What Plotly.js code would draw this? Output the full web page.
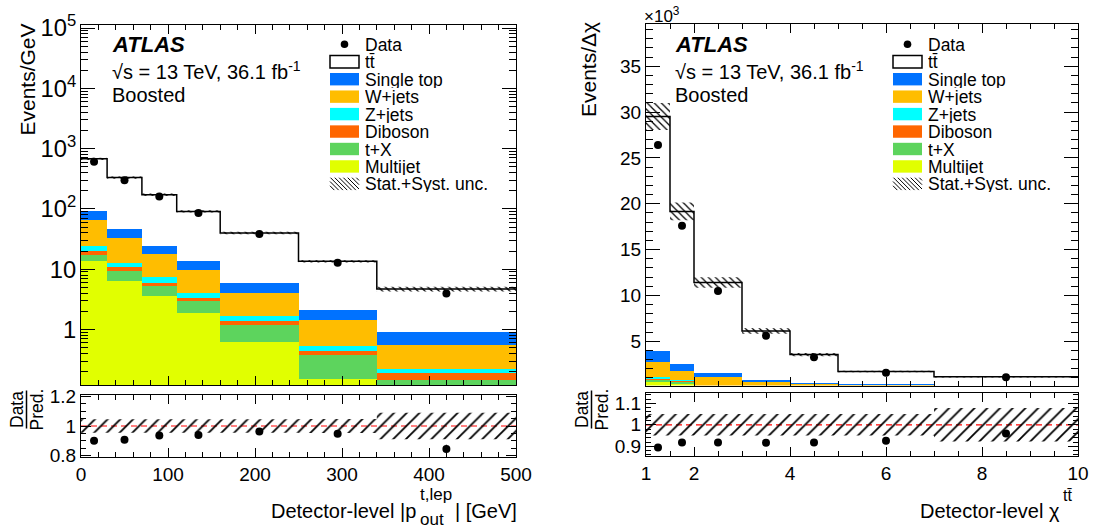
<!DOCTYPE html>
<html>
<head>
<meta charset="utf-8">
<script src="https://cdn.plot.ly/plotly-3.0.1.min.js"></script>
<style>
html,body{margin:0;padding:0;background:#ffffff;}
#chart{width:1094px;height:528px;}
</style>
</head>
<body>
<div id="chart"></div>
<script>
// ---------- Left panel: detector-level |p_out^{t,lep}|  (Events/GeV) ----------
const poutEdges      = [0, 30, 70, 110, 160, 250, 340, 500];
const poutData       = [608, 300, 161, 85.5, 38.5, 12.8, 3.97];
const poutDataRelErr = [0.005, 0.006, 0.008, 0.010, 0.012, 0.018, 0.035];
const poutTtbar      = [585, 284.5, 147.4, 77.5, 34.15, 11.36, 3.8];
const poutSingleTop  = [24.7, 13.1, 6.5, 3.65, 1.8, 0.73, 0.346];
const poutWjets      = [42.4, 20.5, 10.65, 5.8, 2.37, 0.87, 0.339];
const poutZjets      = [4.1, 2.2, 1.52, 0.70, 0.32, 0.105, 0.029];
const poutDiboson    = [2.3, 1.2, 0.58, 0.41, 0.18, 0.067, 0.046];
const poutTX         = [3.6, 3.0, 1.69, 1.08, 0.55, 0.217, 0.093];
const poutMultijet   = [13.9, 6.5, 3.66, 1.86, 0.63, 0.154, 0.05];
const poutRelUnc     = [0.046, 0.045, 0.045, 0.046, 0.046, 0.047, 0.09];

// ---------- Right panel: detector-level chi^{tt}  (Events/Delta chi, x10^3) ----------
const chiEdges      = [1, 1.5, 2, 3, 4, 5, 7, 10];
const chiData       = [26.4, 17.59, 10.47, 5.61, 3.26, 1.574, 1.075];
const chiDataRelErr = [0.004, 0.005, 0.005, 0.007, 0.009, 0.012, 0.014];
const chiTtbar      = [25.55, 16.59, 9.92, 5.36, 3.085, 1.395, 0.965];
const chiSingleTop  = [1.27, 0.83, 0.40, 0.21, 0.10, 0.08, 0.04];
const chiWjets      = [1.55, 0.99, 0.93, 0.45, 0.32, 0.20, 0.10];
const chiZjets      = [0.25, 0.14, 0.03, 0.02, 0.01, 0.007, 0.005];
const chiDiboson    = [0.08, 0.06, 0.01, 0.01, 0.005, 0.003, 0.002];
const chiTX         = [0.25, 0.20, 0.06, 0.04, 0.02, 0.01, 0.005];
const chiMultijet   = [0.55, 0.35, 0.06, 0.03, 0.01, 0.005, 0.003];
const chiRelUnc     = [0.05, 0.05, 0.05, 0.05, 0.05, 0.05, 0.078];

// ---------- Labels ----------
const legendLabels = ['Data', 't\u0074\u0304', 'Single top', 'W+jets', 'Z+jets', 'Diboson', 't+X', 'Multijet', 'Stat.+Syst. unc.'];
const stackNames   = ['Multijet', 't+X', 'Diboson', 'Z+jets', 'W+jets', 'Single top', 'ttbar'];
const stackColors  = ['#e1ff00', '#5dd45d', '#ff6600', '#00ffff', '#ffbd00', '#0072ff', '#ffffff'];
const poutXTicks = [0, 100, 200, 300, 400, 500];
const chiXTicks  = [1, 2, 4, 6, 8, 10];

const FONT = 'Liberation Sans, Arial, Helvetica, sans-serif';
const W = 1094, H = 528;
const px = x => x / W, py = y => 1 - y / H;

function centers(e) { return e.slice(0, -1).map((v, i) => (v + e[i + 1]) / 2); }
function widths(e)  { return e.slice(0, -1).map((v, i) => e[i + 1] - v); }

function buildPanel(p) {
  const c = centers(p.edges), w = widths(p.edges);
  const traces = [];
  p.comps.forEach((arr, i) => traces.push({
    type: 'bar', name: stackNames[i], x: c, y: arr, width: w,
    xaxis: p.xa, yaxis: p.ya, marker: {color: stackColors[i], line: {width: 0}},
    showlegend: false, hoverinfo: 'skip'
  }));
  const total = c.map((_, i) => p.comps.reduce((s, a) => s + a[i], 0));
  const bx = [], by = [], rx = [], ry = [];
  total.forEach((t, i) => {
    const a = p.edges[i], b = p.edges[i + 1], u = p.relUnc[i];
    bx.push(a, b, b, a, a, null); by.push(t * (1 - u), t * (1 - u), t * (1 + u), t * (1 + u), t * (1 - u), null);
    rx.push(a, b, b, a, a, null); ry.push(1 - u, 1 - u, 1 + u, 1 + u, 1 - u, null);
  });
  traces.push({
    type: 'scatter', mode: 'lines', x: bx, y: by, xaxis: p.xa, yaxis: p.ya,
    line: {width: 0, color: 'rgba(0,0,0,0)'}, fill: 'toself', fillcolor: 'rgba(0,0,0,0)',
    fillpattern: {shape: '\\', fgcolor: '#000', bgcolor: 'rgba(0,0,0,0)', size: 5, solidity: 0.25},
    showlegend: false, hoverinfo: 'skip'
  });
  traces.push({
    type: 'scatter', mode: 'lines', x: p.edges, y: total.concat([total[total.length - 1]]),
    xaxis: p.xa, yaxis: p.ya, line: {shape: 'hv', color: '#000', width: 1.5},
    showlegend: false, hoverinfo: 'skip'
  });
  traces.push({
    type: 'scatter', mode: 'markers', x: c, y: p.data, xaxis: p.xa, yaxis: p.ya,
    marker: {color: '#000', size: 8},
    error_y: {type: 'data', array: p.data.map((d, i) => d * p.dataRelErr[i]), thickness: 1.2, width: 0, color: '#000'},
    showlegend: false, hoverinfo: 'skip'
  });
  // ratio
  traces.push({
    type: 'scatter', mode: 'lines', x: rx, y: ry, xaxis: p.rxa, yaxis: p.rya,
    line: {width: 0, color: 'rgba(0,0,0,0)'}, fill: 'toself', fillcolor: 'rgba(0,0,0,0)',
    fillpattern: {shape: '/', fgcolor: '#000', bgcolor: 'rgba(0,0,0,0)', size: 9, solidity: 0.2},
    showlegend: false, hoverinfo: 'skip'
  });
  const ratio = p.data.map((d, i) => d / total[i]);
  traces.push({
    type: 'scatter', mode: 'markers', x: c, y: ratio, xaxis: p.rxa, yaxis: p.rya,
    marker: {color: '#000', size: 8},
    error_y: {type: 'data', array: ratio.map((r, i) => r * p.dataRelErr[i]), thickness: 1.2, width: 0, color: '#000'},
    showlegend: false, hoverinfo: 'skip'
  });
  return traces;
}

const traces = [].concat(
  buildPanel({edges: poutEdges, data: poutData, dataRelErr: poutDataRelErr, relUnc: poutRelUnc,
    comps: [poutMultijet, poutTX, poutDiboson, poutZjets, poutWjets, poutSingleTop, poutTtbar],
    xa: 'x', ya: 'y', rxa: 'x2', rya: 'y2'}),
  buildPanel({edges: chiEdges, data: chiData, dataRelErr: chiDataRelErr, relUnc: chiRelUnc,
    comps: [chiMultijet, chiTX, chiDiboson, chiZjets, chiWjets, chiSingleTop, chiTtbar],
    xa: 'x3', ya: 'y3', rxa: 'x4', rya: 'y4'})
);

function ax(extra) {
  return Object.assign({
    showline: true, linecolor: '#000', linewidth: 1, mirror: 'allticks',
    ticks: 'inside', tickcolor: '#000', tickwidth: 1, showgrid: false, zeroline: false,
    tickfont: {family: FONT, size: 19, color: '#000'}
  }, extra);
}
const minor = (o) => Object.assign({ticks: 'inside', tickcolor: '#000', showgrid: false}, o);

const LX = [px(81), px(516)], RX = [px(646), px(1078)];
const layout = {
  width: W, height: H, margin: {l: 0, r: 0, t: 0, b: 0},
  paper_bgcolor: '#fff', plot_bgcolor: '#fff', barmode: 'stack', showlegend: false,
  font: {family: FONT, color: '#000'},
  xaxis:  ax({domain: LX, anchor: 'y', range: [0, 500], dtick: 100, tick0: 0, ticklen: 9, showticklabels: false,
              minor: minor({dtick: 20, tick0: 0, ticklen: 5})}),
  yaxis:  ax({domain: [py(385), py(25)], anchor: 'x', type: 'log', range: [-0.92, 5.05], dtick: 1,
              exponentformat: 'power', ticklen: 14, minor: minor({dtick: 'D1', ticklen: 7})}),
  xaxis2: ax({domain: LX, anchor: 'y2', range: [0, 500], tickmode: 'array', tickvals: poutXTicks, ticklen: 9,
              minor: minor({tickmode: 'linear', dtick: 20, tick0: 0, ticklen: 5})}),
  yaxis2: ax({domain: [py(457), py(395)], anchor: 'x2', range: [0.79, 1.21], tickmode: 'array',
              tickvals: [0.8, 1, 1.2], ticktext: ['0.8', '1', '1.2'], ticklen: 10,
              minor: minor({tickmode: 'linear', dtick: 0.05, tick0: 0, ticklen: 5})}),
  xaxis3: ax({domain: RX, anchor: 'y3', range: [1, 10], dtick: 2, tick0: 0, ticklen: 9, showticklabels: false,
              minor: minor({dtick: 0.5, tick0: 0, ticklen: 5})}),
  yaxis3: ax({domain: [py(385.5), py(24)], anchor: 'x3', range: [0.17, 39.6], dtick: 5, tick0: 0, ticklen: 14,
              minor: minor({dtick: 1, tick0: 0, ticklen: 7})}),
  xaxis4: ax({domain: RX, anchor: 'y4', range: [1, 10], tickmode: 'array', tickvals: chiXTicks, ticklen: 9,
              minor: minor({tickmode: 'linear', dtick: 0.5, tick0: 0, ticklen: 5})}),
  yaxis4: ax({domain: [py(456), py(393)], anchor: 'x4', range: [0.855, 1.148], tickmode: 'array',
              tickvals: [0.9, 1, 1.1], ticktext: ['0.9', '1', '1.1'], ticklen: 10,
              minor: minor({tickmode: 'linear', dtick: 0.02, tick0: 0, ticklen: 5})}),
  shapes: [], annotations: []
};

// red dashed unity lines
[['x2', 'y2', poutEdges], ['x4', 'y4', chiEdges]].forEach(([xr, yr, e]) => {
  layout.shapes.push({type: 'line', xref: xr, yref: yr, x0: e[0], x1: e[e.length - 1], y0: 1, y1: 1,
    line: {color: '#ff0000', width: 1.2, dash: '6px,4px'}, layer: 'below'});
});

function ann(text, x, y, opts) {
  layout.annotations.push(Object.assign({text, x: px(x), y: py(y), xref: 'paper', yref: 'paper',
    showarrow: false, xanchor: 'left', yanchor: 'middle', borderpad: 0,
    font: {family: FONT, size: 20, color: '#000'}}, opts || {}));
}

// ATLAS labels
[111, 674].forEach(x0 => {
  ann('<b><i>ATLAS</i></b>', x0, 45, {font: {family: FONT, size: 22, color: '#000'}});
  ann('\u221As = 13 TeV, 36.1 fb<sup>-1</sup>', x0, 70, {font: {family: FONT, size: 20, color: '#000'}});
  ann('Boosted', x0, 95, {font: {family: FONT, size: 20, color: '#000'}});
});

// legends
const rowY = [44.3, 61.75, 79.2, 96.65, 114.1, 131.55, 149, 166.45, 183.9];
const legendFill = [null, '#ffffff', '#0072ff', '#ffbd00', '#00ffff', '#ff6600', '#5dd45d', '#e1ff00', 'hatch'];
function legend(bx0, bx1, tx) {
  legendLabels.forEach((lab, i) => {
    const y = rowY[i];
    ann(lab, tx, y, {height: 17, valign: 'middle', font: {family: FONT, size: 17.5, color: '#000'}});
    if (i === 0) {
      const cx = (bx0 + bx1) / 2;
      layout.shapes.push({type: 'circle', xref: 'paper', yref: 'paper', x0: px(cx - 3.8), x1: px(cx + 3.8),
        y0: py(y + 3.8), y1: py(y - 3.8), fillcolor: '#000', line: {width: 0}});
    } else if (legendFill[i] === 'hatch') {
      const top = y - 6.2, bot = y + 6.2, h = bot - top;
      for (let k = -h; k < bx1 - bx0; k += 4.3) {
        const t0 = Math.max(0, -k), t1 = Math.min(h, bx1 - bx0 - k);
        if (t1 <= t0) continue;
        layout.shapes.push({type: 'line', xref: 'paper', yref: 'paper',
          x0: px(bx0 + k + t0), y0: py(top + t0), x1: px(bx0 + k + t1), y1: py(top + t1),
          line: {color: '#000', width: 1}});
      }
    } else {
      layout.shapes.push({type: 'rect', xref: 'paper', yref: 'paper', x0: px(bx0), x1: px(bx1),
        y0: py(y + 6.2), y1: py(y - 6.2), fillcolor: legendFill[i],
        line: {width: i === 1 ? 1.5 : 0, color: '#000'}});
    }
  });
}
legend(330, 359, 364);
legend(893, 922, 927);

// axis titles
ann('Events/GeV', 26.5, 23, {textangle: -90, xanchor: 'center', yanchor: 'top', font: {family: FONT, size: 21, color: '#000'}});
ann('Events/\u0394\u03C7', 588.5, 21, {textangle: -90, xanchor: 'center', yanchor: 'top', font: {family: FONT, size: 21, color: '#000'}});
ann('\u00D710<sup>3</sup>', 643, 15, {font: {family: FONT, size: 17, color: '#000'}});

// Data/Pred. fractions
[81, 646].forEach(ax0 => {
  ann('Data', ax0 - 64.5, 409.5, {textangle: -90, xanchor: 'center', yanchor: 'middle', font: {family: FONT, size: 17.5, color: '#000'}});
  ann('Pred.', ax0 - 45, 409.5, {textangle: -90, xanchor: 'center', yanchor: 'middle', font: {family: FONT, size: 17.5, color: '#000'}});
  layout.shapes.push({type: 'line', xref: 'paper', yref: 'paper', x0: px(ax0 - 54.5), x1: px(ax0 - 54.5),
    y0: py(390.5), y1: py(428.5), line: {color: '#000', width: 1.5}});
});

// x titles
ann('Detector-level |p', 416.5, 511, {xanchor: 'right'});
ann('t,lep', 419, 494, {font: {family: FONT, size: 17, color: '#000'}});
ann('out', 419, 519, {font: {family: FONT, size: 17, color: '#000'}});
ann('| [GeV]', 518, 511, {xanchor: 'right'});
ann('Detector-level \u03C7', 1061, 511, {xanchor: 'right'});
ann('t\u0074\u0304', 1062, 495, {font: {family: FONT, size: 16, color: '#000'}});

Plotly.newPlot('chart', traces, layout, {staticPlot: true, displayModeBar: false});
</script>
</body>
</html>
